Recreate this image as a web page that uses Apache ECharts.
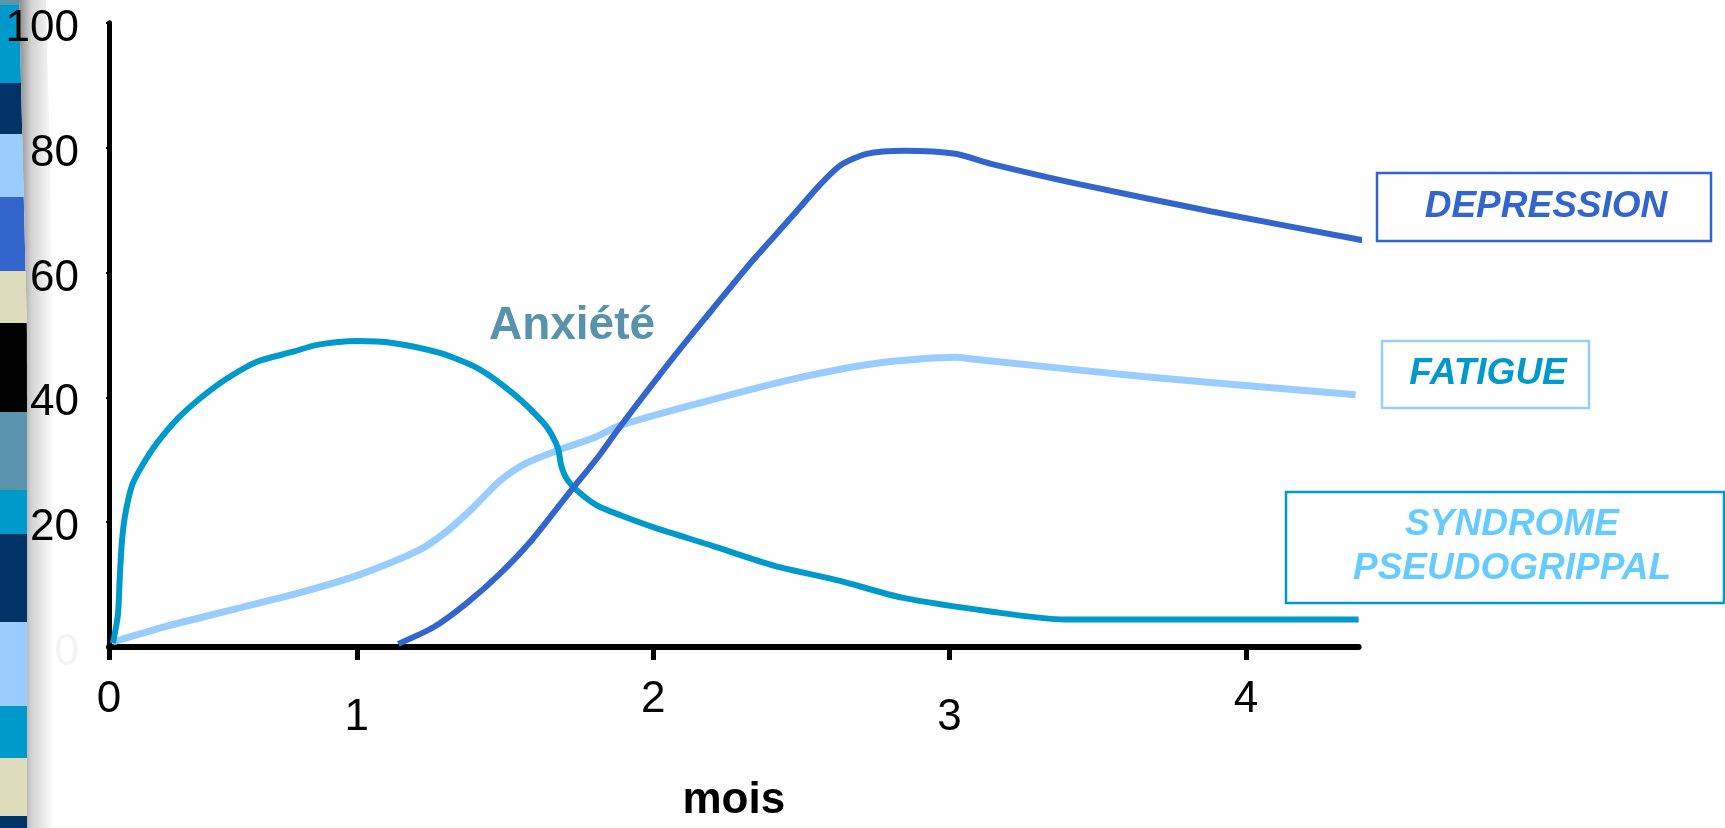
<!DOCTYPE html>
<html>
<head>
<meta charset="utf-8">
<script src="https://cdn.jsdelivr.net/npm/echarts@6/dist/echarts.min.js"></script>
<style>
html,body{margin:0;padding:0;background:#fff;}
#chart{width:1725px;height:828px;}
</style>
</head>
<body>
<div id="chart"></div>
<script>
// ---- data (months, %) ----
const xTickMonths = [0, 1, 2, 3, 4];
const xTickLabels = ['0', '1', '2', '3', '4'];
const yTickValues = [0, 20, 40, 60, 80, 100];

const anxieteMonths = [0.016,0.036,0.044,0.052,0.065,0.093,0.133,0.194,0.275,0.367,0.476,0.597,0.743,0.840,1.00,1.12,1.28,1.41,1.53,1.63,1.66,1.68,1.69,1.71,1.75,1.81,1.89,2.00,2.20,2.41,2.63,2.84,3.15,3.39,4.38];
const anxieteValues = [0.6,5.2,11.6,16.8,21.1,25.9,29.0,32.7,36.5,39.8,43.0,45.7,47.3,48.4,49.0,48.7,47.1,44.6,40.5,35.9,33.8,31.6,29.0,26.8,24.8,22.7,21.1,19.2,16.2,13.0,10.6,7.9,5.6,4.4,4.4];

const depressionMonths = [1.14,1.26,1.37,1.48,1.59,1.71,1.82,1.89,2.07,2.20,2.33,2.46,2.56,2.63,2.72,2.85,3.02,3.14,3.44,3.88,4.41];
const depressionValues = [0.5,3.2,7.0,11.6,17.1,24.3,30.8,35.4,46.5,54.1,61.6,68.5,73.9,77.1,79.0,79.5,79.0,77.4,74.1,69.8,65.0];

const fatigueMonths = [0.016,0.23,0.50,0.77,1.01,1.21,1.30,1.39,1.48,1.57,1.69,1.80,1.89,2.15,2.46,2.76,3.02,3.10,3.66,4.37];
const fatigueValues = [0.8,3.3,6.0,8.7,11.6,15.5,18.4,22.2,26.5,29.4,31.7,33.5,35.5,39.0,42.8,45.5,46.4,46.0,43.3,40.4];

// The original axis draws the first month shorter than the others.
const FIRST_MONTH_SCALE = 0.836;
function monthToPos(m) { return m <= 1 ? m * FIRST_MONTH_SCALE : m - 1 + FIRST_MONTH_SCALE; }
const xAxisEndMonth = 4.38;

const tickPos = xTickMonths.map(monthToPos);
const pair = (ms, vs) => ms.map((m, i) => [monthToPos(m), vs[i]]);

const FONT = '"Liberation Sans", Arial, Helvetica, sans-serif';
const C_ANX = '#0099CC', C_DEP = '#3366CC', C_FAT = '#99CCFF';

// ---- decorative left stripe of the slide template ----
const stripeBlocks = [
  [0,5,'#5B95AD'],[5,83,'#0099CC'],[83,134,'#003366'],[134,197,'#99CCFF'],
  [197,271,'#3366CC'],[271,323,'#DDDDBB'],[323,412,'#000000'],[412,490,'#5B95AD'],
  [490,534,'#0099CC'],[534,622,'#003366'],[622,706,'#99CCFF'],[706,758,'#0099CC'],
  [758,816,'#DDDDBB'],[816,828,'#003366']
];
const edgeX = y => y < 330 ? 19 + 8 * y / 330 : 27;
const graphics = [];
stripeBlocks.forEach(b => {
  graphics.push({type:'polygon', z:-100, silent:true,
    shape:{points:[[0,b[0]],[edgeX(b[0]),b[0]],[edgeX(b[1]),b[1]],[0,b[1]]]},
    style:{fill:b[2]}});
});
graphics.push({type:'polygon', z:-100, silent:true,
  shape:{points:[[19,0],[46,0],[54,330],[54,828],[27,828],[27,330]]},
  style:{fill:{type:'linear',x:0,y:0,x2:1,y2:0,colorStops:[
    {offset:0,color:'#8c8c8c'},{offset:0.35,color:'#d2d2d2'},{offset:1,color:'#ffffff'}]}}});

// legend boxes
function box(x, y, w, h, stroke) {
  return {type:'rect', z:50, silent:true, shape:{x:x,y:y,width:w,height:h},
    style:{fill:'#ffffff', stroke:stroke, lineWidth:2.5}};
}
function label(x, y, text, color, size, italic) {
  return {type:'text', z:51, silent:true, x:x, y:y,
    style:{text:text, fill:color, font:(italic?'italic ':'') + 'bold ' + size + 'px ' + FONT,
      align:'center', verticalAlign:'middle'}};
}
graphics.push(box(1377,173,334,68,C_DEP));
graphics.push(label(1546,207,'DEPRESSION',C_DEP,37,true));
graphics.push(box(1382,341,207,67,C_FAT));
graphics.push(label(1488,374,'FATIGUE',C_ANX,37,true));
graphics.push(box(1286,492,438,111,C_ANX));
graphics.push(label(1512,525,'SYNDROME','#66CCFF',37,true));
graphics.push(label(1512,569,'PSEUDOGRIPPAL','#66CCFF',37,true));
graphics.push(label(572,326,'Anxiété','#5892AB',46,false));

const chart = echarts.init(document.getElementById('chart'), null, {renderer:'canvas'});
chart.setOption({
  backgroundColor:'#ffffff',
  animation:false,
  grid:{left:109, right:366.4, top:22.7, bottom:175, containLabel:false},
  xAxis:{
    type:'value', min:0, max:monthToPos(xAxisEndMonth),
    splitLine:{show:false},
    axisLine:{show:true, lineStyle:{color:'#000', width:6}},
    axisTick:{show:true, customValues:tickPos, length:13, lineStyle:{color:'#000', width:5}},
    axisLabel:{
      customValues:tickPos, margin:31, color:'#000', fontFamily:FONT, fontSize:44,
      formatter:function(v){
        const i = tickPos.findIndex(p => Math.abs(p - v) < 1e-6);
        if (i < 0) return '';
        return (i % 2 ? '{lo|' : '{hi|') + xTickLabels[i] + '}';
      },
      rich:{
        hi:{fontFamily:FONT, fontSize:44, lineHeight:44, color:'#000'},
        lo:{fontFamily:FONT, fontSize:44, lineHeight:80, color:'#000'}
      }
    },
    name:'mois', nameLocation:'middle', nameGap:132,
    nameTextStyle:{fontFamily:FONT, fontSize:44, fontWeight:'bold', color:'#000', lineHeight:44}
  },
  yAxis:{
    type:'value', min:0, max:100, interval:20,
    splitLine:{show:false},
    axisLine:{show:true, lineStyle:{color:'#000', width:5}},
    axisTick:{show:true, length:3, lineStyle:{color:'#000', width:2}},
    axisLabel:{
      margin:30, color:'#000', fontFamily:FONT, fontSize:44, padding:[12,0,0,0],
      formatter:function(v){ return v === 0 ? '{z|0}' : String(v); },
      rich:{z:{fontFamily:FONT, fontSize:44, color:'#f4f4f4'}}
    }
  },
  series:[
    {name:'Fatigue', type:'line', data:pair(fatigueMonths, fatigueValues), showSymbol:false,
      smooth:0.25, clip:false, lineStyle:{color:C_FAT, width:7}, z:3},
    {name:'Anxiété', type:'line', data:pair(anxieteMonths, anxieteValues), showSymbol:false,
      smooth:0.25, clip:false, lineStyle:{color:C_ANX, width:6}, z:4},
    {name:'Dépression', type:'line', data:pair(depressionMonths, depressionValues), showSymbol:false,
      smooth:0.25, clip:false, lineStyle:{color:C_DEP, width:6}, z:5}
  ],
  graphic:graphics
});
</script>
</body>
</html>
